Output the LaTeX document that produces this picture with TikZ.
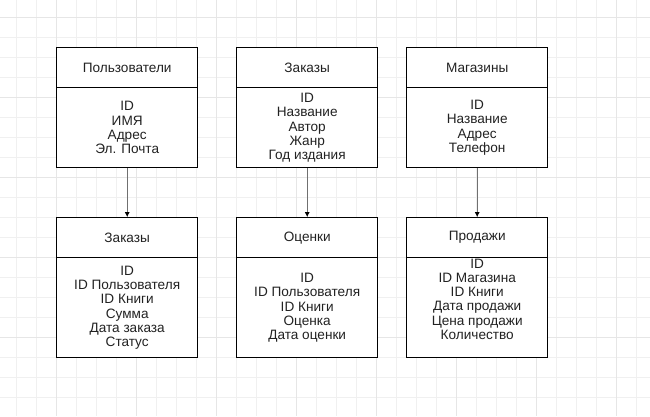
\documentclass[tikz,border=0pt]{standalone}
\usepackage{fontspec}
\setmainfont{Liberation Sans}
\usetikzlibrary{arrows.meta}
\definecolor{gridminor}{HTML}{F0F0F0}
\definecolor{gridmajor}{HTML}{E6E6E6}
\definecolor{txt}{HTML}{222222}
\definecolor{conn}{HTML}{707070}
\begin{document}
\begin{tikzpicture}[x=1pt,y=-1pt,
  hdr/.style={draw=black,line width=1pt,fill=white,minimum width=141pt,minimum height=40pt,inner sep=0pt,text=txt,font=\fontsize{13.6}{14.3}\selectfont},
  bdy/.style={draw=black,line width=1pt,fill=white,minimum width=141pt,inner sep=0pt,align=center,text=txt,font=\fontsize{13.6}{14.3}\selectfont},
  txtnode/.style={inner sep=0pt,align=center,text=txt,font=\fontsize{13.6}{14.3}\selectfont},
  conn/.style={draw=conn,line width=1.3pt,-{Latex[length=5pt,width=5pt,color=black]}}]
\useasboundingbox (0,0) rectangle (650,416);
\fill[white] (0,0) rectangle (650,416);
% grid
\foreach \i in {0,...,31} {\draw[gridminor,line width=1pt] (16.7+20*\i,0) -- (16.7+20*\i,416);}
\foreach \j in {0,...,19} {\draw[gridminor,line width=1pt] (0,17.3+20*\j) -- (650,17.3+20*\j);}
\foreach \i in {0,...,7} {\draw[gridmajor,line width=1pt] (56.7+80*\i,0) -- (56.7+80*\i,416);}
\foreach \j in {0,...,4} {\draw[gridmajor,line width=1pt] (0,17.3+80*\j) -- (650,17.3+80*\j);}
% top tables
\node[hdr] (h1) at (127.2,67.7) {Пользователи};
\node[bdy,minimum height=80pt] (b1) at (127.2,127.7) {ID\\ИМЯ\\Адрес\\Эл. Почта};
\node[hdr] (h2) at (307.2,67.7) {Заказы};
\node[bdy,minimum height=80pt] (b2) at (307.2,127.7) {ID\\Название\\Автор\\Жанр\\Год издания};
\node[hdr] (h3) at (477.2,67.7) {Магазины};
\node[bdy,minimum height=80pt] (b3) at (477.2,127.7) {ID\\Название\\Адрес\\Телефон};
% bottom tables
\node[hdr] (h4) at (127.2,237.7) {Заказы};
\node[bdy,minimum height=100pt] (b4) at (127.2,307.7) {ID\\ID Пользователя\\ID Книги\\Сумма\\Дата заказа\\Статус};
\node[hdr] (h5) at (307.2,237.7) {Оценки};
\node[bdy,minimum height=100pt] (b5) at (307.2,307.7) {ID\\ID Пользователя\\ID Книги\\Оценка\\Дата оценки};
\node[hdr] (h6) at (477.2,237.7) {Продажи};
\node[bdy,minimum height=100pt] (b6) at (477.2,307.7) {};
\node[txtnode,anchor=north] (t6) at (477.2,258.5) {ID\\ID Магазина\\ID Книги\\Дата продажи\\Цена продажи\\Количество};
% connectors
\draw[conn] (b1.south) -- (h4.north);
\draw[conn] (b2.south) -- (h5.north);
\draw[conn] (b3.south) -- (h6.north);
\end{tikzpicture}
\end{document}
